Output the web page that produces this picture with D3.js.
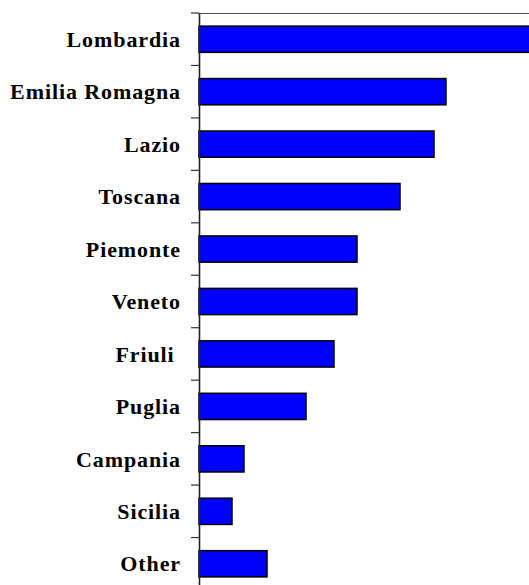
<!DOCTYPE html>
<html>
<head>
<meta charset="utf-8">
<script src="https://cdn.jsdelivr.net/npm/d3@7"></script>
<style>
  html, body { margin: 0; padding: 0; background: #fff; }
  svg { display: block; }
</style>
</head>
<body>
<svg id="chart" width="529" height="585"></svg>
<script>
const categories = ["Lombardia", "Emilia Romagna", "Lazio", "Toscana", "Piemonte", "Veneto", "Friuli ", "Puglia", "Campania", "Sicilia", "Other"];
const values = [345, 247, 235, 201, 158, 158, 135, 107, 45, 33, 68];

const width = 529, height = 585;
const svg = d3.select("#chart");

const x = d3.scaleLinear().domain([0, 330]).range([199, 529]);
const y = d3.scaleBand().domain(categories).range([13, 590]).paddingInner(0.5).paddingOuter(0.25);

// top border line of plot area
svg.append("line")
  .attr("x1", 199).attr("x2", width)
  .attr("y1", 13.5).attr("y2", 13.5)
  .attr("stroke", "#555").attr("stroke-width", 1.2);

// bars
svg.append("g").selectAll("rect")
  .data(categories)
  .join("rect")
  .attr("x", x(0))
  .attr("y", d => y(d))
  .attr("width", (d, i) => x(values[i]) - x(0))
  .attr("height", y.bandwidth())
  .attr("fill", "#0000FF")
  .attr("stroke", "#000")
  .attr("stroke-width", 1.5);

// ticks at band boundaries
const step = y.step();
const boundaries = d3.range(categories.length + 1).map(i => 13 + i * step);
svg.append("g").selectAll("line")
  .data(boundaries)
  .join("line")
  .attr("x1", 191).attr("x2", 199)
  .attr("y1", d => d).attr("y2", d => d)
  .attr("stroke", "#333").attr("stroke-width", 1.2);

// axis line
svg.append("line")
  .attr("x1", 199.5).attr("x2", 199.5)
  .attr("y1", 13).attr("y2", height)
  .attr("stroke", "#222").attr("stroke-width", 1.6);

// labels
svg.append("g").selectAll("text")
  .data(categories)
  .join("text")
  .attr("x", 181)
  .attr("y", d => y(d) + y.bandwidth() / 2)
  .attr("dy", "0.35em")
  .attr("text-anchor", "end")
  .style("white-space", "pre")
  .attr("font-family", "'Liberation Serif', 'Times New Roman', serif")
  .attr("font-weight", "bold")
  .attr("font-size", 22)
  .attr("letter-spacing", "0.9px")
  .attr("fill", "#000")
  .text(d => d);
</script>
</body>
</html>
